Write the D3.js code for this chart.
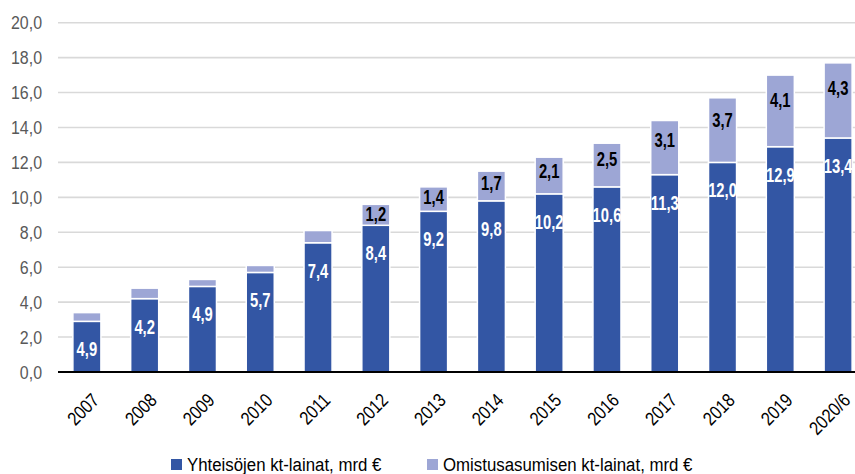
<!DOCTYPE html>
<html>
<head>
<meta charset="utf-8">
<script src="https://cdn.jsdelivr.net/npm/d3@7"></script>
<style>
  html, body { margin: 0; padding: 0; background: #fff; }
  svg { display: block; font-family: "Liberation Sans", Arial, sans-serif; }
</style>
</head>
<body>
<svg id="chart" width="855" height="474"></svg>
<script>
const categories = ["2007","2008","2009","2010","2011","2012","2013","2014","2015","2016","2017","2018","2019","2020/6"];
const yhteisojen = [2.9, 4.2, 4.9, 5.7, 7.4, 8.4, 9.2, 9.8, 10.2, 10.6, 11.3, 12.0, 12.9, 13.4];
const omistus = [0.5, 0.6, 0.4, 0.4, 0.7, 1.2, 1.4, 1.7, 2.1, 2.5, 3.1, 3.7, 4.1, 4.3];
const yhteisojenLabels = ["4,9","4,2","4,9","5,7","7,4","8,4","9,2","9,8","10,2","10,6","11,3","12,0","12,9","13,4"];
const omistusLabels = ["","","","","","1,2","1,4","1,7","2,1","2,5","3,1","3,7","4,1","4,3"];
const yTicks = [0, 2, 4, 6, 8, 10, 12, 14, 16, 18, 20];
const seriesNames = ["Yhteisöjen kt-lainat, mrd €", "Omistusasumisen kt-lainat, mrd €"];
const colors = ["#3356a4", "#9da6d5"];

const NARROW = 0.84, NARROW_BOLD = 0.74, NARROW_LEGEND = 0.885;
const svg = d3.select("#chart");
const x = d3.scaleBand().domain(categories).range([58, 867]).paddingInner(0.515).paddingOuter(0.2575);
const y = d3.scaleLinear().domain([0, 20]).range([372, 22.7]);

// gridlines
svg.append("g").selectAll("line").data(yTicks.filter(d => d > 0)).join("line")
  .attr("x1", 58).attr("x2", 855)
  .attr("y1", d => y(d)).attr("y2", d => y(d))
  .attr("stroke", "#d9d9d9").attr("stroke-width", 1.6);

// y labels
const fmt = d => d.toFixed(1).replace(".", ",");
svg.append("g").selectAll("text").data(yTicks).join("text")
  .attr("transform", d => `translate(42,${y(d)}) scale(${NARROW},1)`)
  .attr("dy", "0.35em")
  .attr("text-anchor", "end").attr("fill", "#595959").attr("font-size", 19)
  .text(fmt);

const rows = categories.map((c, i) => ({c, a: yhteisojen[i], b: omistus[i], la: yhteisojenLabels[i], lb: omistusLabels[i]}));

// bars
const bars = svg.append("g");
bars.selectAll("rect.a").data(rows).join("rect").attr("class", "a")
  .attr("x", d => x(d.c)).attr("width", x.bandwidth())
  .attr("y", d => y(d.a)).attr("height", d => y(0) - y(d.a))
  .attr("fill", colors[0]).attr("stroke", "#fff").attr("stroke-width", 1.5);
bars.selectAll("rect.b").data(rows).join("rect").attr("class", "b")
  .attr("x", d => x(d.c)).attr("width", x.bandwidth())
  .attr("y", d => y(d.a + d.b)).attr("height", d => y(d.a) - y(d.a + d.b))
  .attr("fill", colors[1]).attr("stroke", "#fff").attr("stroke-width", 1.5);

// axis line
svg.append("line").attr("x1", 58).attr("x2", 855).attr("y1", y(0)).attr("y2", y(0))
  .attr("stroke", "#000").attr("stroke-width", 2);

// data labels
svg.append("g").selectAll("text").data(rows).join("text")
  .attr("transform", d => `translate(${x(d.c) + x.bandwidth() / 2},${y(d.a) + 28}) scale(${NARROW_BOLD},1)`)
  .attr("dy", "0.35em")
  .attr("text-anchor", "middle").attr("fill", "#fff").attr("font-weight", "bold").attr("font-size", 20)
  .text(d => d.la);
svg.append("g").selectAll("text").data(rows.filter(d => d.lb)).join("text")
  .attr("transform", d => { const t = y(d.a + d.b), h = y(d.a) - t;
    return `translate(${x(d.c) + x.bandwidth() / 2},${t + 0.3 * h + 3}) scale(${NARROW_BOLD},1)`; })
  .attr("dy", "0.35em")
  .attr("text-anchor", "middle").attr("fill", "#000").attr("font-weight", "bold").attr("font-size", 20)
  .text(d => d.lb);

// x labels
svg.append("g").selectAll("text").data(categories).join("text")
  .attr("transform", d => `translate(${x(d) + x.bandwidth() / 2 + 4},${392}) rotate(-45) scale(${NARROW},1)`)
  .attr("text-anchor", "end").attr("dy", "0.7em").attr("fill", "#000").attr("font-size", 19)
  .text(d => d);

// legend
const legend = [{x: 171, name: seriesNames[0], color: colors[0]}, {x: 427, name: seriesNames[1], color: colors[1]}];
const lg = svg.append("g");
lg.selectAll("rect").data(legend).join("rect")
  .attr("x", d => d.x).attr("y", 459).attr("width", 11).attr("height", 11).attr("fill", d => d.color);
lg.selectAll("text").data(legend).join("text")
  .attr("transform", d => `translate(${d.x + 16},471) scale(${NARROW_LEGEND},1)`)
  .attr("fill", "#000").attr("font-size", 19)
  .text(d => d.name);
</script>
</body>
</html>
